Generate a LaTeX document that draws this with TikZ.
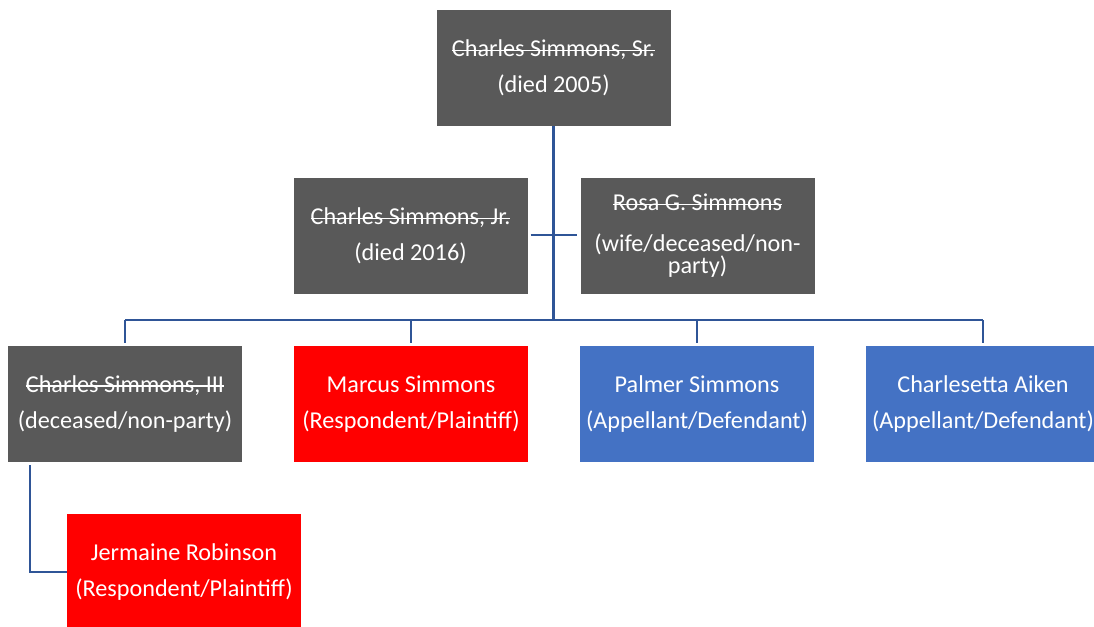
\documentclass[tikz,border=0pt]{standalone}
\usepackage{fontspec}
\setmainfont{Carlito}
\newcommand{\strk}[1]{\setbox0\hbox{#1}\rlap{\rule[0.24em]{\wd0}{1.3pt}}\box0}
\definecolor{boxgray}{HTML}{595959}
\definecolor{boxred}{HTML}{FF0000}
\definecolor{boxblue}{HTML}{4472C4}
\definecolor{linec}{HTML}{2F5597}
\begin{document}
\begin{tikzpicture}[x=1pt,y=-1pt,
  box/.style={minimum width=234pt, minimum height=116pt, inner sep=0pt, text=white, align=center, font=\fontsize{24.2}{36}\selectfont},
  gray/.style={box, fill=boxgray},
  red/.style={box, fill=boxred},
  blue/.style={box, fill=boxblue},
  conn/.style={draw=linec, line width=2.6pt}]
\useasboundingbox[fill=white] (0,0) rectangle (1094,626);
\clip (0,0) rectangle (1094,626);
\node[gray] (sr) at (553.5,68) {\strk{Charles Simmons, Sr.}\\(died 2005)};
\node[gray] (jr) at (410.5,236) {\strk{Charles Simmons, Jr.}\\(died 2016)};
\node[gray] (rosa) at (697.5,236) {\strk{Rosa G. Simmons}\\[5pt](wife/deceased/non-\\[-14pt]party)};
\node[gray] (iii) at (125,404) {\strk{Charles Simmons, III}\\(deceased/non-party)};
\node[red] (marcus) at (411,404) {Marcus Simmons\\(Respondent/Plaintiff)};
\node[blue] (palmer) at (697,404) {Palmer Simmons\\(Appellant/Defendant)};
\node[blue] (aiken) at (983,404) {Charlesetta Aiken\\(Appellant/Defendant)};
\node[red] (jermaine) at (184,572) {Jermaine Robinson\\(Respondent/Plaintiff)};
\coordinate (bus) at (553.5,320);
\coordinate (busl) at (125,320);
\coordinate (busr) at (983,320);
\coordinate (bend) at (30,572);
\draw[conn] (sr.south) -- (bus);
\draw[conn] (busl) -- (busr);
\draw[conn, shorten >=3pt] (busl) -- (iii.north);
\draw[conn, shorten >=3pt] (bus -| marcus.north) -- (marcus.north);
\draw[conn, shorten >=3pt] (bus -| palmer.north) -- (palmer.north);
\draw[conn, shorten >=3pt] (busr) -- (aiken.north);
\draw[conn, shorten <=3pt, shorten >=3pt] ([yshift=1pt]jr.east) -- ([yshift=1pt]rosa.west);
\draw[conn, shorten <=3pt] (iii.south -| bend) -- (bend) -- (jermaine.west);
\end{tikzpicture}
\end{document}
